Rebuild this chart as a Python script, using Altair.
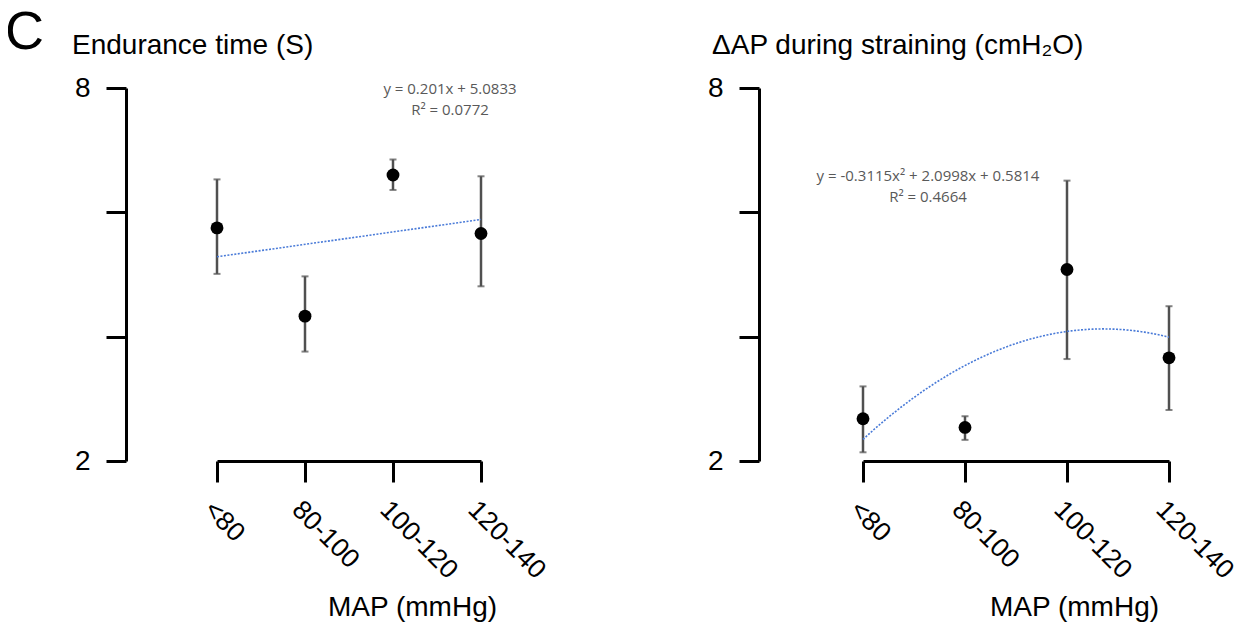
import json
import altair as alt
import pandas as pd

# ---- data ----
categories = ["<80", "80-100", "100-120", "120-140"]
positions = [1, 2, 3, 4]

endurance_mean = [5.75, 4.33, 6.60, 5.66]
endurance_hi = [6.53, 4.97, 6.85, 6.58]
endurance_lo = [5.01, 3.76, 6.36, 4.81]

dap_mean = [2.68, 2.54, 5.08, 3.66]
dap_hi = [3.20, 2.72, 6.51, 4.49]
dap_lo = [2.14, 2.34, 3.64, 2.82]

y_ticks = [2, 4, 6, 8]

left_title = "Endurance time (S)"
right_title = "\u0394AP during straining (cmH\u2082O)"
x_title = "MAP (mmHg)"
panel_letter = "C"
left_eq = ["y = 0.201x + 5.0833", "R\u00b2 = 0.0772"]
right_eq = ["y = -0.3115x\u00b2 + 2.0998x + 0.5814", "R\u00b2 = 0.4664"]

FONT = "Liberation Sans"
EQ_FONT = "Open Sans"
H = 373
FS = 28

label_expr = json.dumps(categories) + "[datum.value - 1]"


def panel(mean, hi, lo, width, y_offset, method, order, eq, title, title_dx,
          eq_x, eq_y, x_title_x, letter=False):
    df = pd.DataFrame({"pos": positions, "cat": categories,
                       "mean": mean, "hi": hi, "lo": lo})
    xscale = alt.Scale(domain=[1, 4], nice=False, zero=False)
    yscale = alt.Scale(domain=[2, 8], nice=False, zero=False)

    xaxis = alt.Axis(values=positions, labelExpr=label_expr, labelAngle=45,
                     labelAlign="left", labelBaseline="top",
                     labelFontSize=26.5, labelFont=FONT, labelColor="black",
                     labelPadding=14, tickSize=21, tickWidth=3, tickColor="black",
                     domainWidth=3, domainColor="black", grid=False,
                     title=x_title, titleFont=FONT, titleFontSize=FS,
                     titleFontWeight="normal", titleColor="black",
                     titleX=x_title_x, titleY=146, titleAlign="center",
                     titleBaseline="middle", labelOverlap=False, labelFlush=False)
    yaxis = alt.Axis(values=y_ticks,
                     labelExpr="datum.value == 2 || datum.value == 8 ? toString(datum.value) : ''",
                     labelFontSize=FS, labelFont=FONT, labelColor="black",
                     labelPadding=16, tickSize=20, tickWidth=3, tickColor="black",
                     domainWidth=3, domainColor="black", grid=False,
                     offset=y_offset, title=None)

    base = alt.Chart(df)
    err = base.mark_rule(color="#505050", strokeWidth=2.5).encode(
        x=alt.X("pos:Q", scale=xscale, axis=xaxis),
        y=alt.Y("lo:Q", scale=yscale, axis=yaxis),
        y2="hi:Q",
    )
    cap_hi = base.mark_tick(color="#505050", orient="horizontal", size=7,
                            thickness=2).encode(
        x=alt.X("pos:Q", scale=xscale), y=alt.Y("hi:Q", scale=yscale))
    cap_lo = base.mark_tick(color="#505050", orient="horizontal", size=7,
                            thickness=2).encode(
        x=alt.X("pos:Q", scale=xscale), y=alt.Y("lo:Q", scale=yscale))
    pts = base.mark_circle(color="black", opacity=1, size=165).encode(
        x=alt.X("pos:Q", scale=xscale), y=alt.Y("mean:Q", scale=yscale))

    if method == "linear":
        reg = base.transform_regression("pos", "mean", method="linear",
                                        extent=[1, 4])
    else:
        reg = base.transform_regression("pos", "mean", method="poly",
                                        order=order, extent=[1, 4])
    trend = reg.mark_line(color="#4a7bd8", strokeDash=[2, 1.5],
                          strokeWidth=1.6).encode(
        x=alt.X("pos:Q", scale=xscale), y=alt.Y("mean:Q", scale=yscale))

    eq1 = alt.Chart(pd.DataFrame({"t": [eq[0]]})).mark_text(
        font=EQ_FONT, fontSize=15, color="#595959", align="center",
        baseline="middle").encode(x=alt.value(eq_x), y=alt.value(eq_y),
                                  text="t:N")
    eq2 = alt.Chart(pd.DataFrame({"t": [eq[1]]})).mark_text(
        font=EQ_FONT, fontSize=15, color="#595959", align="center",
        baseline="middle").encode(x=alt.value(eq_x), y=alt.value(eq_y + 21),
                                  text="t:N")
    ttl = alt.Chart(pd.DataFrame({"t": [title]})).mark_text(
        font=FONT, fontSize=FS, color="black", align="left",
        baseline="middle").encode(x=alt.value(title_dx), y=alt.value(-42),
                                  text="t:N")
    layers = [err, cap_hi, cap_lo, trend, pts, eq1, eq2, ttl]
    if letter:
        let = alt.Chart(pd.DataFrame({"t": [panel_letter]})).mark_text(
            font=FONT, fontSize=54, color="black", align="left",
            baseline="middle").encode(x=alt.value(-212), y=alt.value(-55),
                                      text="t:N")
        layers.append(let)
    return alt.layer(*layers).properties(width=width, height=H)


left = panel(endurance_mean, endurance_hi, endurance_lo, 264, 91, "linear", 1,
             left_eq, left_title, -145, 233, 1, 195, letter=True)
right = panel(dap_mean, dap_hi, dap_lo, 306, 104, "poly", 2,
              right_eq, right_title, -151, 65, 88, 211)

chart = alt.hconcat(left, right, spacing=157).properties(
    padding={"left": -3, "top": -2, "right": -4, "bottom": 3}
).configure_view(strokeWidth=0)

chart.save("out.html", embed_options={"renderer": "svg", "actions": False})
